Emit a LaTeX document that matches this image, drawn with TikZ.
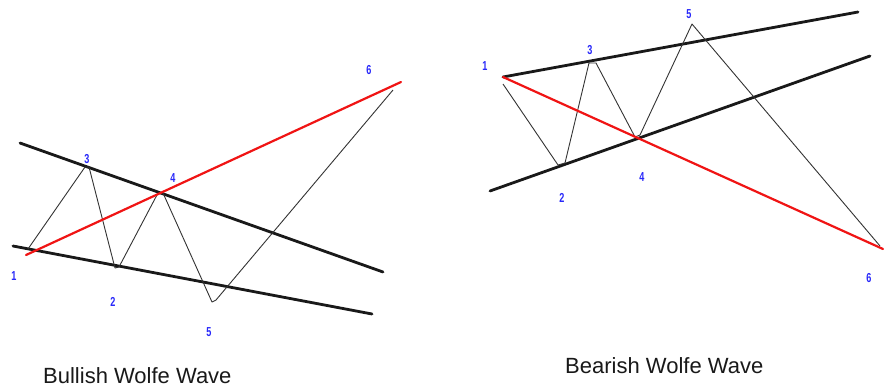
\documentclass[tikz,border=0pt]{standalone}
\usepackage{fontspec}
\setmainfont{Liberation Sans}
\definecolor{lblblue}{RGB}{40,40,250}
\definecolor{redline}{RGB}{240,20,20}
\begin{document}
\begin{tikzpicture}[x=1pt,y=-1pt,
  trend/.style={draw=black!90,line width=2.8pt,line cap=round},
  redtrend/.style={draw=redline,line width=2.2pt,line cap=round},
  wave/.style={draw=black!80,line width=0.9pt,line join=round},
  lbl/.style={text=lblblue,font=\fontsize{13}{13}\selectfont\bfseries,inner sep=0pt,xscale=0.7},
  caption/.style={font=\fontsize{22}{22}\selectfont,anchor=base west,inner sep=0pt,text=black!90}]
\useasboundingbox (0,0) rectangle (884,389);
\fill[white] (0,0) rectangle (884,389);

% ---------- Bullish ----------
\coordinate (bu1) at (20,143); \coordinate (bu2) at (383,272);
\coordinate (bl1) at (13,246); \coordinate (bl2) at (372,314);
\coordinate (br1) at (26,255); \coordinate (br2) at (401,82);
\draw[trend] (bu1) -- (bu2);
\draw[trend] (bl1) -- (bl2);
\coordinate (bp1) at (28,249);
\coordinate (bp3a) at (85,167); \coordinate (bp3b) at (89,167);
\coordinate (bp2a) at (115,268); \coordinate (bp2b) at (119,267);
\coordinate (bp4a) at (158,193); \coordinate (bp4b) at (163,193);
\coordinate (bp5a) at (212,302); \coordinate (bp5b) at (216,300);
\coordinate (bp6) at (393,90);
\draw[wave] (bp1) -- (bp3a) -- (bp3b) -- (bp2a) -- (bp2b) -- (bp4a) -- (bp4b) -- (bp5a) -- (bp5b) -- (bp6);
\draw[redtrend] (br1) -- (br2);
\node[lbl] (bl1t) at (14,276) {1};
\node[lbl] (bl3t) at (87,159) {3};
\node[lbl] (bl4t) at (173,178) {4};
\node[lbl] (bl2t) at (113,302) {2};
\node[lbl] (bl5t) at (209,332) {5};
\node[lbl] (bl6t) at (369,70) {6};
\node[caption] (bcap) at (43,383) {Bullish Wolfe Wave};

% ---------- Bearish ----------
\coordinate (su1) at (503,77); \coordinate (su2) at (858,12);
\coordinate (sl1) at (490,191); \coordinate (sl2) at (870,56);
\coordinate (sr1) at (503,77); \coordinate (sr2) at (883,249);
\draw[trend] (su1) -- (su2);
\draw[trend] (sl1) -- (sl2);
\coordinate (sp1) at (503,84);
\coordinate (sp2a) at (558,165); \coordinate (sp2b) at (565,163);
\coordinate (sp3a) at (589,63); \coordinate (sp3b) at (596,63);
\coordinate (sp4a) at (635,137); \coordinate (sp4b) at (640,135);
\coordinate (sp5) at (692,24);
\coordinate (sp6) at (880,246);
\draw[wave] (sp1) -- (sp2a) -- (sp2b) -- (sp3a) -- (sp3b) -- (sp4a) -- (sp4b) -- (sp5) -- (sp6);
\draw[redtrend] (sr1) -- (sr2);
\node[lbl] (sl1t) at (485,66) {1};
\node[lbl] (sl3t) at (590,50) {3};
\node[lbl] (sl5t) at (689,14) {5};
\node[lbl] (sl2t) at (562,198) {2};
\node[lbl] (sl4t) at (642,177) {4};
\node[lbl] (sl6t) at (869,278) {6};
\node[caption] (scap) at (565,373) {Bearish Wolfe Wave};
\end{tikzpicture}
\end{document}
